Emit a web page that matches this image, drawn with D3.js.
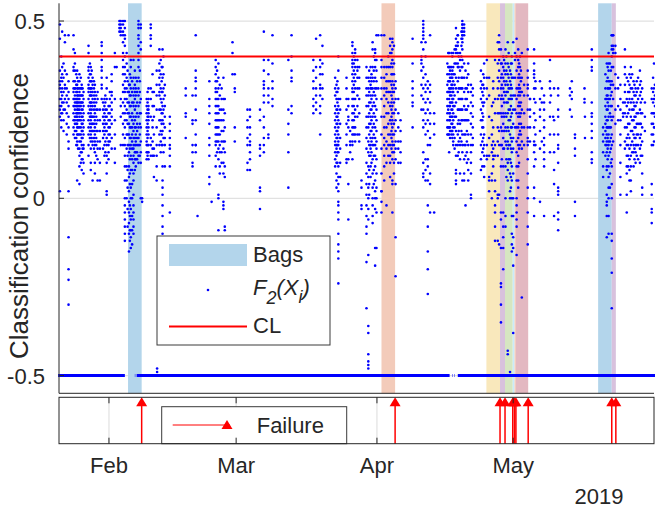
<!DOCTYPE html>
<html>
<head>
<meta charset="utf-8">
<script src="https://cdn.jsdelivr.net/npm/d3@7"></script>
<style>
  body { margin: 0; background: #fff; }
  text { font-family: "Liberation Sans", Arial, sans-serif; fill: #262626; }
</style>
</head>
<body>
<div id="chart"></div>
<script>
// day-of-year values for 2019 (21 = Jan 21 00:00)
const failureDays = [39.2, 95.0, 118.1, 119.2, 120.9, 121.3, 121.6, 124.3, 142.7, 143.6];
const bagColors = ["#b3d5eb", "#f3cbba", "#f9e8bc", "#d8c1dd", "#d6e6c1", "#c9ebfa", "#f3cbba", "#e3b8c1", "#b3d5eb", "#d8c1dd"];
const bagLength = 3;
const clLevel = 0.4;
const missingValue = -0.5;
const missingRanges = [[20.8, 35.5], [37.7, 37.8], [38.1, 107.0], [107.6, 107.7], [108.0, 108.1], [108.8, 152.3]];
const yTicks = [-0.5, 0, 0.5];
const yTickLabels = ["-0.5", "0", "0.5"];
const monthTicks = [32, 60, 91, 121];
const monthLabels = ["Feb", "Mar", "Apr", "May"];

// F2(Xi) read column by column, values in hundredths
const scoreColumns = [
  [21.2, "49 45 36 33 32 31 28 26 25 23 2"],
  [21.5, "40 34 30 28 26 24 22 20"],
  [21.7, "47 37 35 33 31 29 27 24"],
  [22.0, "38 34 30 27 25 22 19"],
  [22.3, "46 44 36 32 31 28 25"],
  [22.7, "35 31 29 27 24 21 18"],
  [23.1, "46 33 30 28 26 23 20 16 14 2 -11 -20 -23 -30"],
  [24.2, "46 42 37 36 33 31 30 28 26 24 22 20 18"],
  [24.5, "41 38 36 33 31 31 29 28 27 26 25 23 22 21 19 17"],
  [24.8, "35 32 30 28 27 26 24 23 21 19 17 15"],
  [25.0, "36 34 32 31 30 29 28 27 26 25 24 23 22 21 20 18 16 15 5"],
  [25.2, "33 31 29 28 27 26 25 24 22 20 18 14"],
  [25.5, "35 33 31 30 29 28 27 26 25 24 23 22 20 18 16 14 12 9 4"],
  [25.8, "34 31 29 27 26 24 22 20 18 16 13 10"],
  [26.0, "32 31 29 27 25 23 21 19 17 15 13 11 8"],
  [26.2, "31 29 27 25 23 21 19 17 14 11"],
  [26.4, "30 28 26 24 22 20 18 15 14 10 7"],
  [27.5, "43 41 37 36 34 32 31 30 28 26 24 22 20 18 15 12"],
  [27.8, "38 35 33 31 29 27 25 23 21 19 17"],
  [28.0, "37 35 33 31 30 29 27 26 24 23 22 20 18 16 14 10 8"],
  [28.2, "36 33 31 29 27 25 23 21 19 17"],
  [28.4, "34 32 30 28 26 23 21 19 16 15 5"],
  [28.7, "33 31 29 27 25 23 21 19 17 14"],
  [28.9, "32 30 28 26 24 22 20 18 16 15 13 10 7"],
  [29.2, "29 27 25 23 21 19 17 15 12"],
  [29.5, "30 28 25 22 19 16 14 11 5"],
  [30.0, "25 22 19 16 14 10 5"],
  [30.4, "44 43 41 39 37 36 34 32 31 28"],
  [30.7, "27 25 23 21 19 17 14"],
  [31.0, "28 26 24 22 20 18 15 12"],
  [31.2, "29 27 25 23 21 19 16 13"],
  [31.5, "34 31 28 25 23 21 19 17 15 12 10 7 2 1"],
  [31.9, "26 24 22 20 18 16 15 13 11"],
  [32.2, "30 28 26 24 22 20 18 16"],
  [32.6, "35 33 30 29 27 25 23 21 17 14"],
  [33.3, "41 37 28 22 18 14 10"],
  [33.7, "37"],
  [34.3, "50 49 48 47"],
  [34.6, "50 49 48 47 46 28 26 23 15"],
  [35.1, "50 49 47 46 44 41 39 37 35 32 30 27 24 21 18 15"],
  [35.5, "50 48 46 45 43 40 37 35 33 31 30 28 26 24 22 20 17 15 12 9 5 0 -2 -4 -6 -8 -10 -12"],
  [35.9, "41 38 34 31 28 25 22 18 14 9 5 0"],
  [36.1, "36 33 30 27 24 21 18 15 12 8 3 -3 -8"],
  [36.4, "32 30 27 24 21 18 15 13 9 6 2 -1 -4 -7 -10 -15"],
  [36.6, "35 32 29 26 23 20 17 14 11 7 4 -2 -5 -9 -12"],
  [36.8, "39 37 34 31 29 26 23 20 17 15 12 8 3 0 -3 -6 -9 -11 -14"],
  [37.1, "33 30 27 24 22 20 18 16 14 11 8 4 0 -5 -9 -13"],
  [37.4, "39 34 31 29 27 26 23 21 19 17 15 14 12 10 7 5 1 -2 -4 -6 -8 -10"],
  [37.7, "36 32 30 28 25 22 20 17 15 13 11 8"],
  [37.9, "34 31 29 26 23 20 18 16 15 13 11 9"],
  [38.2, "33 30 27 24 21 19 17 15 13 11"],
  [38.5, "50 49 48 46 45 43 41 39 37 34 31 29 26 23 20 17 15 12 10"],
  [38.8, "36 33 30 27 24 21 18 15 12"],
  [39.0, "49 48 44 42 28 24 20 16 13 10 0"],
  [39.3, "0 -1"],
  [40.3, "28 26 24 22 20 18 16 15 13 11"],
  [40.5, "30 27 25 23 21 19 17 15 13 12"],
  [40.7, "31 28 26 25 24 23 22 20 18 15 13 11"],
  [41.2, "49 48 46 45 43 31 28 23 17 15 12"],
  [41.6, "35 30 26 22 20 16 14 12"],
  [41.9, "30 26 23 18 14 12 6"],
  [42.5, "36 32 29 25 20 15 12 9 5"],
  [42.6, "-48 -49"],
  [43.1, "42 38 36 34 32 30 29 25 22 18 15"],
  [43.4, "39 35 31 28 25 22 19 16 13"],
  [43.6, "37 33 30 27 24 21 18 15"],
  [43.8, "42 37 34 30 26 24 22 19 15 9 5 3 1 -2 -5 -8 -10"],
  [44.0, "40 35 31 28 25 21 17 13"],
  [44.3, "32 29 26 23 20 17 15 9"],
  [45.4, "23 21 19 17 15 14 12 9 -4"],
  [48.9, "31 29 24 23 17"],
  [50.4, "29 22 21 15 13 10 9"],
  [51.1, "46 36 34 33 31 29 25 22 18 15 15 13"],
  [51.5, "-5"],
  [54.1, "33 28 26 24 21 17 15 12 6 4"],
  [54.6, "-1"],
  [55.5, "39 37 35 33 31 30 28 26 24 22 20 18 16 15 12 9"],
  [55.8, "36 33 30 28 26 24 22 20 18 16 13"],
  [56.1, "38 34 31 28 26 24 22 20 18 16 14 11 1 0 -9"],
  [56.4, "32 29 25 22 18 15 13 9 7"],
  [56.8, "31 28 25 22 19 16 13 10"],
  [57.2, "34 28 25 22 19 16 14 10 7 -1 -2 -3"],
  [57.5, "28 24 20 16 13 9 6 -8 -9"],
  [59.2, "44 41 35"],
  [59.7, "35 31 30 20 16"],
  [62.5, "25 22 20 17 15 10 8"],
  [63.05, "25 23 20 18 16 15 13 11 8"],
  [65.25, "25 22 15 14 12 3 2 -3"],
  [66.1, "47 39 36 33 32 31 29 27 23 20 17 15 13"],
  [67.1, "39 35 31 29 27 18 17"],
  [68.0, "46 38 33 31 28 26"],
  [71.5, "39 25 21 18 13 3"],
  [72.2, "46 40 36 34 33 26 24"],
  [77.0, "39 36 33 31 28 26 24"],
  [77.6, "45 37 34 31 29 27 25"],
  [78.5, "46 39 37 35 32 31 29 26 24 18"],
  [79.0, "43 38 35 31 28"],
  [81.8, "34 31 29 26 24 22 20 18 16 15 13 11 9"],
  [82.1, "32 30 28 25 23 21 19 17 15 14 12 10 7 5 3"],
  [82.3, "33 30 27 25 23 21 19 17 15 13 10"],
  [82.5, "40 36 31 28 26 24 22 20 18 16 15 13 9 6 4 2 -1 -2 -4 -6 -10 -13 -15 -17 -24"],
  [82.9, "28 25 21 17 14 10 6"],
  [84.3, "34 31 28 25 21 18 15 11 10"],
  [84.7, "28 26 23 22 20 11 4 -6"],
  [85.1, "19 16 15 13"],
  [85.6, "44 43 41 39 38 37 35 33 31 30 28 26 24 22 20 18 16 15 11"],
  [85.9, "40 38 36 34 32 30 28 26 24 22 20 18"],
  [86.2, "42 41 39 37 35 33 31 28 25 23 20 18 16"],
  [86.7, "39 37 36 34 31 29 26 23 18"],
  [87.1, "37 34 31 28 24 18 16"],
  [87.6, "5 3 -2 -3"],
  [88.7, "37 34 31 29 26 23 20 17 14 10 7 4 1 -2 -5 -8 -10 -18 -31"],
  [89.1, "34 31 29 26 23 20 16 13 9 6 3 0 -3 -6 -16 -36 -38 -44 -46 -47 -48"],
  [89.3, "36 33 30 27 24 21 18 15 12 8 4 1"],
  [89.6, "37 34 32 31 29 27 25 23 21 19 17 15 14 12 9 6"],
  [89.8, "35 33 31 28 25 22 19 16 13 10"],
  [90.05, "44 42 37 34 31 29 26 23 20 17 15 11 7 3 0 -2 -5 -7"],
  [90.3, "40 36 33 30 27 24 21 18 15 12 8 4"],
  [90.6, "42 41 39 37 34 31 29 26 23 20 17 15 12 9 5 2 0 -3 -14 -19"],
  [90.9, "46 39 36 33 31 28 25 22 19 16 14 11 7 3 0 -4 -14"],
  [91.3, "46 31"],
  [92.0, "46 39 37 34 31 28 23 18 14 7 2 2 -1 -4"],
  [92.6, "46 37 34 31 29 26 23 20 17 15 12 9 5"],
  [93.1, "37 35 33 31 30 28 24 20 16 14 10 -2"],
  [93.5, "40 37 33 30 27 24 21 18 15 12"],
  [93.9, "45 43 41 37 33 30 26 22 18 15 12 10 6"],
  [94.2, "41 38 35 32 29 27 25 23 21 19 17 14"],
  [94.4, "45 44 42 39 37 35 33 31 30 28 26 24 22 20 18 16 15 13 11 5 4 -4"],
  [94.75, "43 38 35 32 30 27 24 21 18 15 13 10 7"],
  [95.1, "33 31 28 25 22 19 16 14 11 4 -11 -22"],
  [95.7, "28 24 20 16 14 10"],
  [96.2, "22 19 16 13 10"],
  [98.85, "45 38 33 31 29 27 26 20"],
  [100.8, "44 40 39 38 36 32 29 25"],
  [101.2, "50 49 48 47 46 45 42 37 34 31 28 25 22 20 13 10 7 6"],
  [101.7, "44 40 35 32 30 27 24 21 18 11 8 5"],
  [102.2, "33 31 28 25 22 19 15 11 9 5 -2 -8 -15 -20 -27"],
  [102.7, "46 32 30 27 24 21 17 15 7 4 -4"],
  [103.6, "24 21 18 -4"],
  [106.5, "38 35 32 30 28 26 24 22 20 18"],
  [106.7, "41 37 33 30 25 20 18"],
  [106.9, "41 37 35 33 31 30 28 26 24 22 20 18 13"],
  [107.1, "37 36 34 33 31 30 29 27 26 24 23 22 20 19 17"],
  [107.4, "41 37 35 34 32 31 29 27 25 23 21 19 18"],
  [107.6, "40 36 34 32 30 28 27 25 23 21 19 17"],
  [107.8, "41 37 35 33 31 30 28 26 24 22 20 18 16 15"],
  [108.1, "42 38 35 32 29 26 23 20 17 14"],
  [108.4, "48 45 43 42 41 38 34 31 27 23 19 15 12 8 7 5 4"],
  [108.8, "46 46 44 43 41 38 37 33 30 25 21 18 15 12"],
  [109.0, "40 37 34 31 28 25 22 19 16 13"],
  [109.3, "41 39 36 31 28 25 21 17 15 11 7"],
  [109.6, "47 45 43 40 37 34 31 28 25 22 19 16"],
  [109.8, "50 49 49 48 47 46 46 45 44 42 39 37 34 31 28 25 22 18 15 13 5"],
  [110.2, "49 48 47 46 38 34 30 26 22 18 15 11 7 5"],
  [110.5, "36 31 28 25 22 18 15 12 -2"],
  [110.8, "34 31 28 25 22 19 16 13 10"],
  [111.1, "38 35 32 30 26 22 18 15 11 8 5"],
  [111.7, "32 30 27 24 21 18 15 13 10 7 1 0"],
  [112.1, "31 29 26 23 20 17 15"],
  [113.9, "36 33 31 28 25 22 18 15 11 8"],
  [114.2, "32 30 27 24 22 20 16 13 9"],
  [114.4, "35 32 29 26 23 20 17 14"],
  [114.6, "38 34 31 27 18 15 12 9 6"],
  [115.2, "39 34 31 28 15 12 11"],
  [115.7, "34 29 23 17 12 6 5 2"],
  [116.3, "26 22 18 15 13 7 5 0"],
  [116.6, "33 31 27 20 16 14 12 11 9"],
  [117.0, "39 28 24 15 12 5 2 -2 -4 -8 -12"],
  [117.6, "44 38 34 31 28 24 20 16 12 1 0 -12"],
  [117.9, "46 44 42 39 36 33 29 24 19 15 1 -13"],
  [118.3, "42 38 34 31 28 24 20 15 9 -4 -6 -14 -24 -25 -30 -35"],
  [118.5, "38 35 32 29 26 23 19 15 11"],
  [118.8, "40 37 34 31 28 24 21 17 14 9 -4 -8 -11 -14 -20"],
  [119.0, "39 36 33 30 27 23 19 14"],
  [119.3, "42 38 35 32 29 24 20 16 9 0 -5 -8"],
  [119.5, "40 36 33 30 27 23 19 15 11 6"],
  [119.8, "44 38 35 32 30 27 24 20 16 14 10 8 5 -43 -44"],
  [120.0, "41 37 34 31 28 25 22 19 15 11"],
  [120.3, "36 33 31 28 25 22 18 15 11 7 2 0 -49"],
  [120.5, "38 35 32 29 26 23 20 17 14 10 6 3"],
  [120.7, "40 38 34 31 28 24 20 16 13 9 5 0 -5 -10 -13 -15"],
  [121.0, "44 34 29 25 21 17 14 7 0 -5 -11 -14 -19 -38"],
  [121.4, "41 39 34 29 25 20"],
  [121.75, "45 40 36 31 28 24 20 16 13 9 5 0 -2 -4 -6 -8 -16"],
  [122.1, "42 39 37 34 31 29 26 23 20 17 15 12 9 5 3"],
  [122.3, "38 35 32 30 27 24 21 18 14 10"],
  [122.5, "40 37 34 31 29 26 23 19 15"],
  [122.7, "36 33 30 27 24 21 18"],
  [122.9, "41 34 30 25 20 16 14 -28"],
  [123.4, "32 29 24 20 15"],
  [124.2, "42 36 34 32 31 29 25 20 17 16 15 11 7 3 0 -4 -8 -13"],
  [124.7, "28 28 25 23 20 16"],
  [125.6, "42 38 36 35 34 31 28 24 20 16 15 13 9 3 0 -5"],
  [125.9, "33 31 27 22 18 15 11"],
  [126.9, "33 28 25 23 19 14 -1"],
  [127.3, "31 27 16"],
  [127.8, "29 27 25 22 20 17 15 13 11 9 -5"],
  [129.1, "39 33 31 27 23 18 13"],
  [129.3, "29"],
  [129.8, "23"],
  [130.0, "31 22 18 13 8 4 -5"],
  [130.9, "31 29 25 23 18 15 14 10 3 2 1 -4 -6 -9"],
  [133.5, "31 29 25"],
  [133.9, "33 30 28 23"],
  [134.6, "18 17 14 12 -1 -5"],
  [136.7, "31 28 27"],
  [136.8, "23 17"],
  [138.3, "42 39 37 36 27 24 23 21 19 17 13 11 10"],
  [140.8, "20 18 16 13 9 6"],
  [141.3, "35 31 28 26 23 21 19 17 15 12"],
  [141.6, "38 33 29 28 25 22 20 18 16 15 13 9 8 1 -1 -2 -5 -11"],
  [141.8, "37 34 31 29 27 25 22 20 17 14 11"],
  [142.0, "41 38 36 33 31 28 26 23 20 18 16 15 12 9 6 3 0 -5 -10"],
  [142.3, "38 33 31 28 24 20 16 13 7 3"],
  [142.5, "36 32 29 26 23 20 17 14 10"],
  [142.7, "46 46 43 42 40 37 33 30 26 22 18 15 11 9 4 0 -10 -12 -17 -21 -31"],
  [143.0, "46 46 43 42 41 37 32 28 23 16"],
  [143.5, "43 41 35 31 25 21"],
  [144.1, "34 31 26 22"],
  [144.6, "32 28 25 22 18 15 10 6 1"],
  [145.2, "27 24 23"],
  [145.6, "42 37 35 32 30 27 24 20 16 14"],
  [146.0, "34 28 26 23 20 17 15 12 9 7 1 -4"],
  [146.3, "33 30 27 24 21 18 15 12 9"],
  [146.6, "35 32 30 28 25 21 17 14 11 8 5"],
  [146.9, "37 34 31 27 23 19 15 12 9 5 2"],
  [147.2, "35 31 28 25 22 19 16 13"],
  [147.5, "33 30 27 25 22 18 15 13 9"],
  [147.7, "32 29 26 23 20 17 14 11"],
  [147.95, "31 29 26 23 20 17 15 13 10"],
  [148.2, "33 30 27 24 21 18 15 12"],
  [148.5, "34 31 28 24 21 18 15 11"],
  [148.9, "36 32 29 25 21 17 14 10"],
  [149.1, "33 30 27 24 21 18 15 12"],
  [149.4, "31 28 24 20 16 12 7 3 1"],
  [150.0, "27 23 19"],
  [151.5, "31 28 24 21 18 15 4 1 -3 -4 -7"],
  [151.8, "34 30 27 24 21 18 15"],
  [152.0, "38 31 28 24 20 16"],
  [152.2, "32 29 26 23 20"]
];

const width = 655;
const height = 508;
const left = 59, right = 654;
const topY0 = 3.3, topY1 = 393.3;
const botY0 = 397.3, botY1 = 443.7;

const dayToDate = d => new Date(Date.UTC(2019, 0, 1) + (d - 1) * 864e5);

const x = d3.scaleUtc()
  .domain([dayToDate(21), dayToDate(152)])
  .range([left, right]);
const y = d3.scaleLinear()
  .domain([-0.55, 0.55])
  .range([topY1, topY0]);

const points = scoreColumns.flatMap(([day, vals]) =>
  vals.trim().split(/\s+/).map(v => ({ day: day, value: +v / 100 })));

let prev = -Infinity;
const bags = failureDays.map((f, i) => {
  const b = { start: Math.max(prev, f - bagLength), end: f, color: bagColors[i] };
  prev = f;
  return b;
});

const svg = d3.select("#chart").append("svg")
  .attr("width", width)
  .attr("height", height);

svg.append("rect").attr("width", width).attr("height", height).attr("fill", "#fff");

// grid
svg.append("g").selectAll("line")
  .data(yTicks)
  .join("line")
  .attr("x1", left).attr("x2", right)
  .attr("y1", d => y(d)).attr("y2", d => y(d))
  .attr("stroke", "#e1e1e1").attr("stroke-width", 1.2);

// bag windows
svg.append("g").selectAll("rect")
  .data(bags)
  .join("rect")
  .attr("x", d => x(dayToDate(d.start)))
  .attr("width", d => x(dayToDate(d.end)) - x(dayToDate(d.start)))
  .attr("y", topY0)
  .attr("height", topY1 - topY0)
  .attr("fill", d => d.color);

// missing days sit at -0.5
svg.append("g").selectAll("line")
  .data(missingRanges)
  .join("line")
  .attr("x1", d => x(dayToDate(d[0])))
  .attr("x2", d => x(dayToDate(d[1])))
  .attr("y1", y(missingValue)).attr("y2", y(missingValue))
  .attr("stroke", "#0000ff").attr("stroke-width", 3);

svg.append("g").selectAll("circle")
  .data(points)
  .join("circle")
  .attr("cx", d => x(dayToDate(d.day)))
  .attr("cy", d => y(d.value))
  .attr("r", 1.3)
  .attr("fill", "#0000ff");

// control limit
svg.append("line")
  .attr("x1", left).attr("x2", right)
  .attr("y1", y(clLevel)).attr("y2", y(clLevel))
  .attr("stroke", "#ff0000").attr("stroke-width", 2);

// top axes
svg.append("line").attr("x1", left).attr("x2", left).attr("y1", topY0).attr("y2", topY1)
  .attr("stroke", "#262626").attr("stroke-width", 1);
svg.append("line").attr("x1", left).attr("x2", right).attr("y1", topY1).attr("y2", topY1)
  .attr("stroke", "#262626").attr("stroke-width", 1);

svg.append("g").selectAll("line")
  .data(yTicks)
  .join("line")
  .attr("x1", left).attr("x2", left + 5)
  .attr("y1", d => y(d)).attr("y2", d => y(d))
  .attr("stroke", "#262626");

svg.append("g").selectAll("text")
  .data(yTicks)
  .join("text")
  .attr("x", 45)
  .attr("y", d => y(d) + 8)
  .attr("text-anchor", "end")
  .attr("font-size", 22)
  .text((d, i) => yTickLabels[i]);

svg.append("text")
  .attr("transform", "translate(28,216) rotate(-90)")
  .attr("text-anchor", "middle")
  .attr("font-size", 26)
  .text("Classification confidence");

// top legend
const lg = svg.append("g");
lg.append("rect").attr("x", 157).attr("y", 236).attr("width", 173).attr("height", 109)
  .attr("fill", "#fff").attr("stroke", "#3a3a3a").attr("stroke-width", 1);
lg.append("rect").attr("x", 169).attr("y", 244).attr("width", 78).attr("height", 22)
  .attr("fill", bagColors[0]);
lg.append("text").attr("x", 253).attr("y", 262).attr("font-size", 22).text("Bags");
lg.append("circle").attr("cx", 208).attr("cy", 290).attr("r", 1.3).attr("fill", "#0000ff");
const ft = lg.append("text").attr("x", 253).attr("y", 295).attr("font-size", 22).attr("font-style", "italic");
ft.append("tspan").text("F");
ft.append("tspan").attr("dy", 9).attr("font-size", 18).text("2");
ft.append("tspan").attr("dy", -9).text("(X");
ft.append("tspan").attr("dy", 8).attr("font-size", 18).text("i");
ft.append("tspan").attr("dy", -8).text(")");
lg.append("line").attr("x1", 169).attr("x2", 247).attr("y1", 326.5).attr("y2", 326.5)
  .attr("stroke", "#ff0000").attr("stroke-width", 2);
lg.append("text").attr("x", 253).attr("y", 333).attr("font-size", 22).text("CL");

// bottom panel
const bot = svg.append("g");
bot.selectAll("line.grid")
  .data(monthTicks)
  .join("line")
  .attr("class", "grid")
  .attr("x1", d => x(dayToDate(d))).attr("x2", d => x(dayToDate(d)))
  .attr("y1", botY0).attr("y2", botY1)
  .attr("stroke", "#e1e1e1").attr("stroke-width", 1.2);

const tri = (cx, tipY, w, h) => `M${cx},${tipY}L${cx - w / 2},${tipY + h}L${cx + w / 2},${tipY + h}Z`;

bot.selectAll("line.fail")
  .data(failureDays)
  .join("line")
  .attr("class", "fail")
  .attr("x1", d => x(dayToDate(d))).attr("x2", d => x(dayToDate(d)))
  .attr("y1", botY1).attr("y2", botY0 + 5)
  .attr("stroke", "#ff0000").attr("stroke-width", 1.5);
bot.selectAll("path.fail")
  .data(failureDays)
  .join("path")
  .attr("class", "fail")
  .attr("d", d => tri(x(dayToDate(d)), botY0, 11, 9))
  .attr("fill", "#ff0000");

// failure legend
bot.append("rect").attr("x", 161.7).attr("y", 406.7).attr("width", 185).attr("height", botY1 - 406.7)
  .attr("fill", "#fff").attr("stroke", "#3a3a3a").attr("stroke-width", 1);
bot.append("line").attr("x1", 172.7).attr("x2", 230).attr("y1", 425).attr("y2", 425)
  .attr("stroke", "#ff0000").attr("stroke-width", 1);
bot.append("path").attr("d", tri(227, 420, 11, 9)).attr("fill", "#ff0000");
bot.append("text").attr("x", 256.7).attr("y", 433).attr("font-size", 22).text("Failure");

bot.append("rect").attr("x", left).attr("y", botY0).attr("width", right - left).attr("height", botY1 - botY0)
  .attr("fill", "none").attr("stroke", "#262626").attr("stroke-width", 1);

bot.selectAll("line.tk")
  .data(monthTicks.flatMap(d => [[d, botY0, botY0 + 6], [d, botY1, botY1 - 6]]))
  .join("line")
  .attr("class", "tk")
  .attr("x1", d => x(dayToDate(d[0]))).attr("x2", d => x(dayToDate(d[0])))
  .attr("y1", d => d[1]).attr("y2", d => d[2])
  .attr("stroke", "#262626");

svg.append("g").selectAll("text")
  .data(monthTicks)
  .join("text")
  .attr("x", d => x(dayToDate(d)))
  .attr("y", 473)
  .attr("text-anchor", "middle")
  .attr("font-size", 22)
  .text((d, i) => monthLabels[i]);

svg.append("text").attr("x", 599).attr("y", 504).attr("text-anchor", "middle")
  .attr("font-size", 22).text("2019");
</script>
</body>
</html>
